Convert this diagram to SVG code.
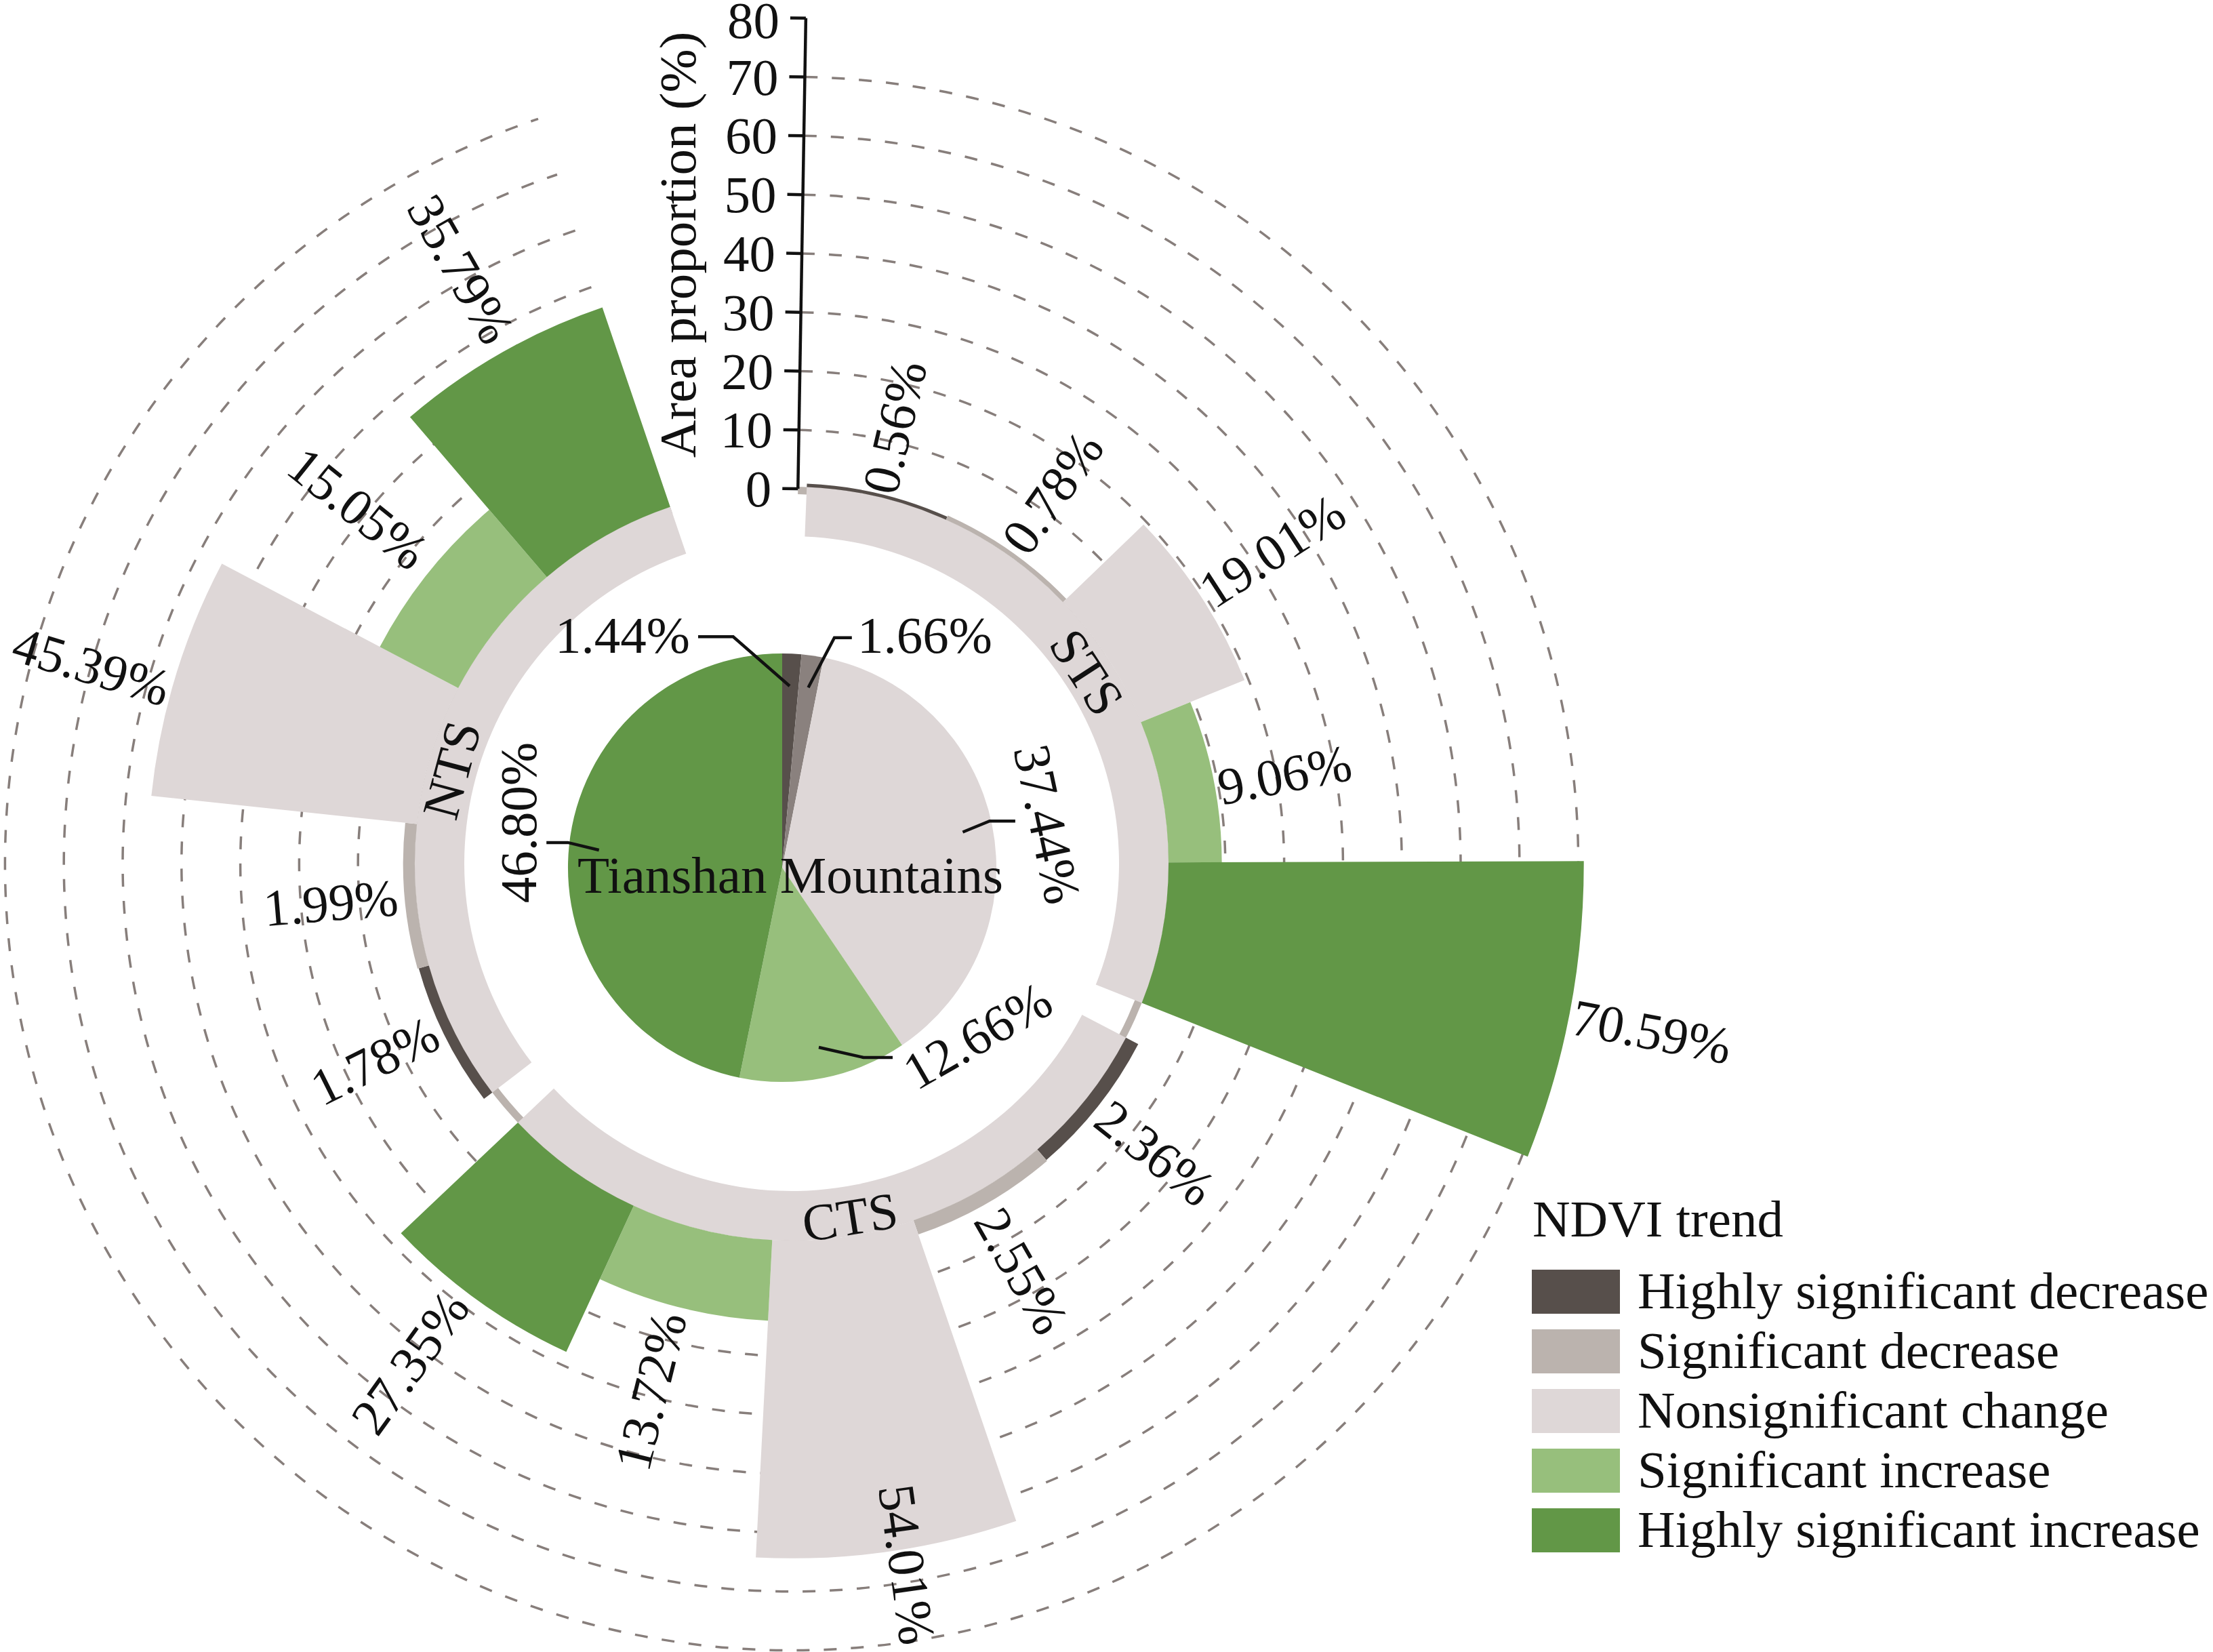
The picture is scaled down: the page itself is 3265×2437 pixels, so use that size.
<svg xmlns="http://www.w3.org/2000/svg" width="3265" height="2437" viewBox="0 0 3265 2437">
<style>
.t{font-family:"Liberation Serif","Times New Roman",serif;font-size:77px;fill:#111111}
.grid{fill:none;stroke:#877E7B;stroke-width:3.5;stroke-dasharray:19 21}
.hd{fill:#574F4B}.sd{fill:#BBB3AE}.ns{fill:#DED7D7}.si{fill:#97BF7C}.hi{fill:#629747}.psd{fill:#8A817E}
.ld{fill:none;stroke:#111111;stroke-width:4.5}
.ax{fill:none;stroke:#111111;stroke-width:4.5}
</style>
<rect width="3265" height="2437" fill="#ffffff"/>
<g id="gridlines">
<path class="grid" d="M1178.72,634.29 A639.8,639.8 0 1 1 961.81,668.33"/>
<path class="grid" d="M1180.17,547.50 A726.6,726.6 0 1 1 933.84,586.16"/>
<path class="grid" d="M1181.63,460.71 A813.4,813.4 0 1 1 905.87,503.99"/>
<path class="grid" d="M1183.08,373.93 A900.2,900.2 0 1 1 877.89,421.83"/>
<path class="grid" d="M1184.54,287.14 A987.0,987.0 0 1 1 849.92,339.66"/>
<path class="grid" d="M1185.99,200.35 A1073.8,1073.8 0 1 1 821.95,257.49"/>
<path class="grid" d="M1187.45,113.56 A1160.6,1160.6 0 1 1 793.97,175.32"/>
<path d="M1177.22,723.58 A550.5,550.5 0 1 1 990.59,752.87" fill="none" stroke="#BBB3AE" stroke-width="11"/>
</g>
<g id="ring-STS"><path class="ns" d="M1190.31,718.45 A556,556 0 0 1 1684.60,1479.59 L1616.77,1452.59 A483,483 0 0 0 1187.38,791.39 Z"/></g>
<g id="ring-CTS"><path class="ns" d="M1661.18,1530.73 A556,556 0 0 1 764.02,1656.02 L817.06,1605.86 A483,483 0 0 0 1596.43,1497.03 Z"/></g>
<g id="ring-NTS"><path class="ns" d="M726.31,1611.70 A556,556 0 0 1 988.82,747.66 L1012.34,816.77 A483,483 0 0 0 784.30,1567.36 Z"/></g>
<g id="bars-STS">
<path id="sts-hd" class="hd" d="M1190.31,718.45 L1190.51,713.59 A560.86,560.86 0 0 1 1397.74,762.34 L1395.74,766.78 A556,556 0 0 0 1190.31,718.45 Z"/>
<path id="sts-sd" class="sd" d="M1395.74,766.78 L1398.52,760.60 A562.77,562.77 0 0 1 1573.23,883.49 L1568.36,888.19 A556,556 0 0 0 1395.74,766.78 Z"/>
<path id="sts-ns" class="ns" d="M1568.36,888.19 L1687.18,773.68 A721.01,721.01 0 0 1 1836.22,1003.20 L1683.30,1065.18 A556,556 0 0 0 1568.36,888.19 Z"/>
<path id="sts-si" class="si" d="M1683.30,1065.18 L1756.18,1035.64 A634.64,634.64 0 0 1 1802.64,1272.01 L1724.00,1272.25 A556,556 0 0 0 1683.30,1065.18 Z"/>
<path id="sts-hi" class="hi" d="M1724.00,1272.25 L2336.71,1270.33 A1168.72,1168.72 0 0 1 2253.92,1706.15 L1684.60,1479.59 A556,556 0 0 0 1724.00,1272.25 Z"/>
</g>
<g id="bars-CTS">
<path id="cts-hd" class="hd" d="M1661.18,1530.73 L1679.35,1540.19 A576.48,576.48 0 0 1 1543.77,1711.18 L1530.42,1695.65 A556,556 0 0 0 1661.18,1530.73 Z"/>
<path id="cts-sd" class="sd" d="M1530.42,1695.65 L1544.85,1712.43 A578.13,578.13 0 0 1 1354.89,1821.10 L1347.73,1800.15 A556,556 0 0 0 1530.42,1695.65 Z"/>
<path id="cts-ns" class="ns" d="M1347.73,1800.15 L1499.28,2243.80 A1024.81,1024.81 0 0 1 1115.08,2297.45 L1139.29,1829.26 A556,556 0 0 0 1347.73,1800.15 Z"/>
<path id="cts-si" class="si" d="M1139.29,1829.26 L1133.14,1948.19 A675.09,675.09 0 0 1 885.04,1886.94 L934.96,1778.81 A556,556 0 0 0 1139.29,1829.26 Z"/>
<path id="cts-hi" class="hi" d="M934.96,1778.81 L835.45,1994.35 A793.40,793.40 0 0 1 591.53,1819.14 L764.02,1656.02 A556,556 0 0 0 934.96,1778.81 Z"/>
</g>
<g id="bars-NTS">
<path id="nts-hd" class="hd" d="M726.31,1611.70 L714.04,1621.08 A571.45,571.45 0 0 1 617.81,1428.45 L632.69,1424.27 A556,556 0 0 0 726.31,1611.70 Z"/>
<path id="nts-sd" class="sd" d="M632.69,1424.27 L616.06,1428.94 A573.27,573.27 0 0 1 597.91,1213.68 L615.09,1215.50 A556,556 0 0 0 632.69,1424.27 Z"/>
<path id="nts-ns" class="ns" d="M615.09,1215.50 L223.28,1174.04 A949.99,949.99 0 0 1 327.33,831.52 L675.98,1015.03 A556,556 0 0 0 615.09,1215.50 Z"/>
<path id="nts-si" class="si" d="M675.98,1015.03 L560.39,954.19 A686.63,686.63 0 0 1 721.88,752.04 L806.76,851.35 A556,556 0 0 0 675.98,1015.03 Z"/>
<path id="nts-hi" class="hi" d="M806.76,851.35 L604.91,615.19 A866.66,866.66 0 0 1 888.70,453.58 L988.82,747.66 A556,556 0 0 0 806.76,851.35 Z"/>
</g>
<g id="pie">
<path class="hd" d="M1154,1280 L1154,964 A316,316 0 0 1 1182.55,965.29 Z"/>
<path class="psd" d="M1154,1280 L1182.55,965.29 A316,316 0 0 1 1215.16,969.98 Z"/>
<path class="ns" d="M1154,1280 L1215.16,969.98 A316,316 0 0 1 1330.96,1541.80 Z"/>
<path class="si" d="M1154,1280 L1330.96,1541.80 A316,316 0 0 1 1090.89,1589.64 Z"/>
<path class="hi" d="M1154,1280 L1090.89,1589.64 A316,316 0 0 1 1154,964 Z"/>
</g>
<g id="leaders">
<path class="ld" d="M1030,939.3 L1081.7,939.3 L1165,1012"/>
<path class="ld" d="M1256.8,940.8 L1231,940.8 L1192.5,1014.3"/>
<path class="ld" d="M1497.9,1211.2 L1460,1211.2 L1420.4,1227.5"/>
<path class="ld" d="M806.2,1242.9 L837.8,1242.9 L883.7,1254"/>
<path class="ld" d="M1317,1560 L1274,1560 L1208,1545"/>
</g>
<g id="axis">
<g transform="rotate(0.96 1168 1274)">
<path class="ax" d="M1168,721 L1168,26.6"/>
<path class="ax" d="M1145,721 H1168 M1145,634.2 H1168 M1145,547.4 H1168 M1145,460.6 H1168 M1145,373.8 H1168 M1145,287 H1168 M1145,200.2 H1168 M1145,113.4 H1168 M1145,26.6 H1168"/>
</g>
<text class="t" x="1138.3" y="747.1" text-anchor="end">0</text>
<text class="t" x="1139.7" y="660.3" text-anchor="end">10</text>
<text class="t" x="1141.2" y="573.5" text-anchor="end">20</text>
<text class="t" x="1142.6" y="486.7" text-anchor="end">30</text>
<text class="t" x="1144.1" y="399.9" text-anchor="end">40</text>
<text class="t" x="1145.5" y="313.1" text-anchor="end">50</text>
<text class="t" x="1147.0" y="226.4" text-anchor="end">60</text>
<text class="t" x="1148.4" y="139.6" text-anchor="end">70</text>
<text class="t" x="1149.9" y="56" text-anchor="end">80</text>
<text class="t" text-anchor="middle" transform="translate(1026,361) rotate(-90)">Area proportion (%)</text>
</g>
<g id="value-labels">
<text class="t" text-anchor="middle" transform="translate(1320,630) rotate(-76.8)" y="26">0.56%</text>
<text class="t" text-anchor="middle" transform="translate(1553,727) rotate(-54.9)" y="26">0.78%</text>
<text class="t" text-anchor="middle" transform="translate(1877,813) rotate(-33)" y="26">19.01%</text>
<text class="t" text-anchor="middle" transform="translate(1895,1143) rotate(-11.1)" y="26">9.06%</text>
<text class="t" text-anchor="middle" transform="translate(2437,1522) rotate(10.8)" y="26">70.59%</text>
<text class="t" text-anchor="middle" transform="translate(1704,1701) rotate(38.4)" y="26">2.36%</text>
<text class="t" text-anchor="middle" transform="translate(1507,1875) rotate(60.2)" y="26">2.55%</text>
<text class="t" text-anchor="middle" transform="translate(1338,2308) rotate(82)" y="26">54.01%</text>
<text class="t" text-anchor="middle" transform="translate(960,2052) rotate(-76.1)" y="26">13.72%</text>
<text class="t" text-anchor="middle" transform="translate(605,2010) rotate(-54.3)" y="26">27.35%</text>
<text class="t" text-anchor="middle" transform="translate(553,1565) rotate(-26.5)" y="26">1.78%</text>
<text class="t" text-anchor="middle" transform="translate(488,1332) rotate(-4.8)" y="26">1.99%</text>
<text class="t" text-anchor="middle" transform="translate(135,983) rotate(16.9)" y="26">45.39%</text>
<text class="t" text-anchor="middle" transform="translate(528,750) rotate(38.6)" y="26">15.05%</text>
<text class="t" text-anchor="middle" transform="translate(680,397) rotate(60.3)" y="26">35.79%</text>
</g>
<g id="region-labels">
<text class="t" text-anchor="middle" transform="translate(1603,992) rotate(57)" y="25.5">STS</text>
<text class="t" text-anchor="middle" transform="translate(1254,1796) rotate(-9)" y="25.5">CTS</text>
<text class="t" text-anchor="middle" transform="translate(667,1136) rotate(-75)" y="25.5">NTS</text>
</g>
<g id="pie-labels">
<text class="t" x="1018" y="963" text-anchor="end">1.44%</text>
<text class="t" x="1265" y="963">1.66%</text>
<text class="t" text-anchor="middle" transform="translate(1545,1216) rotate(78)" y="26">37.44%</text>
<text class="t" text-anchor="middle" transform="translate(764.5,1213.5) rotate(-90)" y="26">46.80%</text>
<text class="t" text-anchor="middle" transform="translate(1442,1528) rotate(-30)" y="26">12.66%</text>
<text class="t" x="1166" y="1317" text-anchor="middle">Tianshan Mountains</text>
</g>
<g id="legend">
<text class="t" x="2261" y="1824">NDVI trend</text>
<rect class="hd" x="2260" y="1873" width="130" height="65"/>
<rect class="sd" x="2260" y="1961" width="130" height="65"/>
<rect class="ns" x="2260" y="2049" width="130" height="65"/>
<rect class="si" x="2260" y="2137" width="130" height="65"/>
<rect class="hi" x="2260" y="2225" width="130" height="65"/>
<text class="t" x="2416" y="1930">Highly significant decrease</text>
<text class="t" x="2416" y="2018">Significant decrease</text>
<text class="t" x="2416" y="2106">Nonsignificant change</text>
<text class="t" x="2416" y="2194">Significant increase</text>
<text class="t" x="2416" y="2282">Highly significant increase</text>
</g>
</svg>
